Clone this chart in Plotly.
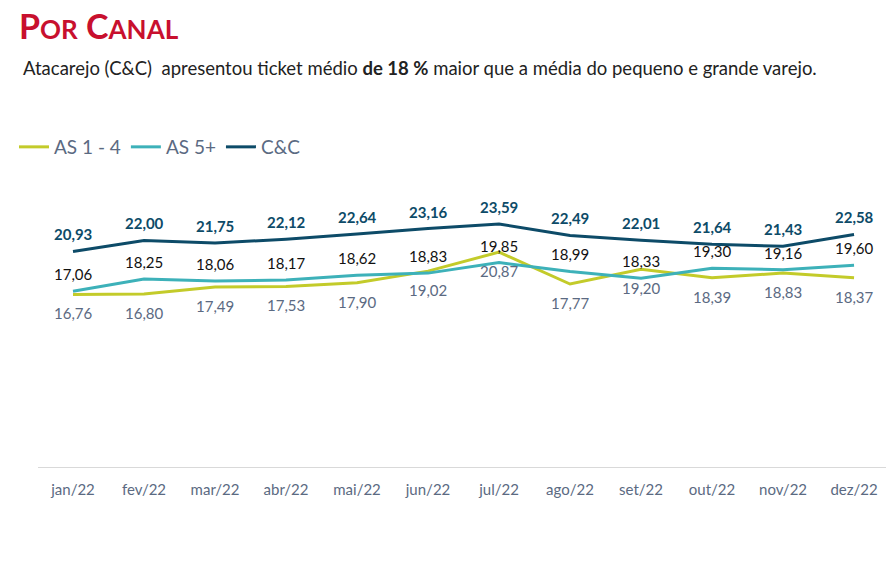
import plotly.graph_objects as go

months = ["jan/22", "fev/22", "mar/22", "abr/22", "mai/22", "jun/22",
          "jul/22", "ago/22", "set/22", "out/22", "nov/22", "dez/22"]
as14 = [16.76, 16.80, 17.49, 17.53, 17.90, 19.02, 20.87, 17.77, 19.20, 18.39, 18.83, 18.37]
as5 = [17.06, 18.25, 18.06, 18.17, 18.62, 18.83, 19.85, 18.99, 18.33, 19.30, 19.16, 19.60]
cc = [20.93, 22.00, 21.75, 22.12, 22.64, 23.16, 23.59, 22.49, 22.01, 21.64, 21.43, 22.58]

W, H = 886, 568
FONT = "Lato"
C_AS14 = "#C3CB2A"
C_AS5 = "#3DB1B9"
C_CC = "#0D4B68"
C_GRAY = "#5B6A82"

fig = go.Figure()
series = [("AS 1 - 4", as14, C_AS14), ("AS 5+", as5, C_AS5), ("C&C", cc, C_CC)]
for name, vals, col in series:
    fig.add_trace(go.Scatter(x=months, y=vals, name=name, mode="lines",
                             line=dict(color=col, width=3), hoverinfo="skip"))

def fmt(v):
    return f"{v:.2f}".replace(".", ",")

ann = []
label_specs = [
    (cc, 17, dict(family=FONT, size=15, color=C_CC), True),
    (as5, 17, dict(family=FONT, size=15, color="#111111"), False),
    (as14, -19, dict(family=FONT, size=15, color=C_GRAY), False),
]
for vals, shift, font, bold in label_specs:
    for m, v in zip(months, vals):
        t = fmt(v)
        if bold:
            t = f"<b>{t}</b>"
        ann.append(dict(x=m, y=v, xref="x", yref="y", text=t, showarrow=False,
                        yshift=shift, font=font))

# title & subtitle
ann.append(dict(xref="paper", yref="paper", x=17 / W, y=1 - 25 / H, xanchor="left", yanchor="middle",
                text="<b>P<span style='font-size:26px'>OR</span> C<span style='font-size:26px'>ANAL</span></b>",
                showarrow=False, font=dict(family=FONT, size=34, color="#C8102E")))
ann.append(dict(xref="paper", yref="paper", x=21 / W, y=1 - 68 / H, xanchor="left", yanchor="middle",
                text="Atacarejo (C&C)  apresentou ticket médio <b>de 18 %</b> maior que a média do pequeno e grande varejo.",
                showarrow=False, font=dict(family=FONT, size=18.5, color="#222222")))

fig.update_layout(
    width=W, height=H,
    margin=dict(l=0, r=0, t=0, b=0),
    paper_bgcolor="white", plot_bgcolor="white",
    showlegend=True,
    legend=dict(orientation="h", x=14 / W, y=1 - 147 / H, xanchor="left", yanchor="middle",
                font=dict(family=FONT, size=19, color=C_GRAY), itemwidth=30,
                bgcolor="rgba(0,0,0,0)"),
    xaxis=dict(domain=[37.5 / W, 1], range=[-0.5, 11.45], showgrid=False, showline=True,
               linecolor="#D9D9D9", linewidth=1,
               ticks="", tickfont=dict(family=FONT, size=15, color=C_GRAY), ticklabelstandoff=9,
               fixedrange=True),
    yaxis=dict(domain=[101 / H, 413 / H], range=[0, 30.3], showgrid=False, showticklabels=False,
               zeroline=False, showline=False, fixedrange=True),
    annotations=ann,
    font=dict(family=FONT),
)

fig.write_html("out.html")
